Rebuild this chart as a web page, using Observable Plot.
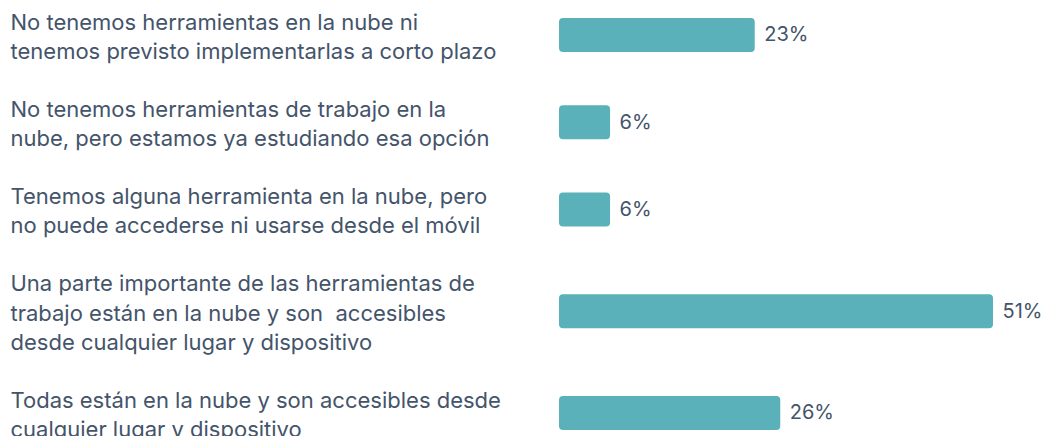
<!DOCTYPE html>
<html>
<head>
<meta charset="utf-8">
<script src="https://cdn.jsdelivr.net/npm/d3@7"></script>
<script src="https://cdn.jsdelivr.net/npm/@observablehq/plot@0.6"></script>
<style>
  html, body { margin: 0; padding: 0; background: #ffffff; }
  #chart svg { display: block; overflow: visible; }
</style>
</head>
<body>
<div id="chart"></div>
<script>
const categories = [
  "No tenemos herramientas en la nube ni\ntenemos previsto implementarlas a corto plazo",
  "No tenemos herramientas de trabajo en la\nnube, pero estamos ya estudiando esa opción",
  "Tenemos alguna herramienta en la nube, pero\nno puede accederse ni usarse desde el móvil",
  "Una parte importante de las herramientas de\ntrabajo están en la nube y son  accesibles\ndesde cualquier lugar y dispositivo",
  "Todas están en la nube y son accesibles desde\ncualquier lugar y dispositivo"
];
const values = [23, 6, 6, 51, 26];
const valueLabels = ["23%", "6%", "6%", "51%", "26%"];

// Layout rows by their number of text lines (one blank line between rows)
let cursor = 0;
const data = categories.map((c, i) => {
  const n = c.split("\n").length;
  const pos = cursor + (n - 1) / 2;
  cursor += n + 1;
  return {category: c, value: values[i], label: valueLabels[i], pos};
});
const lastLine = cursor - 2;

const textColor = "#44546a";
const barColor = "#5bb1b9";
const font = "Inter, 'Noto Sans', sans-serif";

const chart = Plot.plot({
  width: 1042,
  height: 436,
  marginLeft: 559,
  marginRight: 49,
  marginTop: 0,
  marginBottom: 0,
  style: {fontFamily: font, background: "#ffffff"},
  x: {domain: [0, 51], axis: null},
  y: {type: "linear", domain: [0, lastLine], range: [20, 427], axis: null},
  marks: [
    Plot.rect(data, {
      x1: d => 0, x2: "value", y1: d => d.pos - 1, y2: d => d.pos + 1,
      fill: barColor, insetTop: 12.6, insetBottom: 11.6, rx: 4
    }),
    Plot.text(data, {
      y: "pos", text: "category", frameAnchor: "left", dx: -549, dy: 0, textAnchor: "start",
      fill: textColor, fontSize: 22, lineHeight: 1.321
    }),
    Plot.text(data, {
      x: "value", y: "pos", text: "label", dx: 9, dy: 0, textAnchor: "start",
      fill: textColor, fontSize: 20
    })
  ]
});
document.getElementById("chart").appendChild(chart);
</script>
</body>
</html>
